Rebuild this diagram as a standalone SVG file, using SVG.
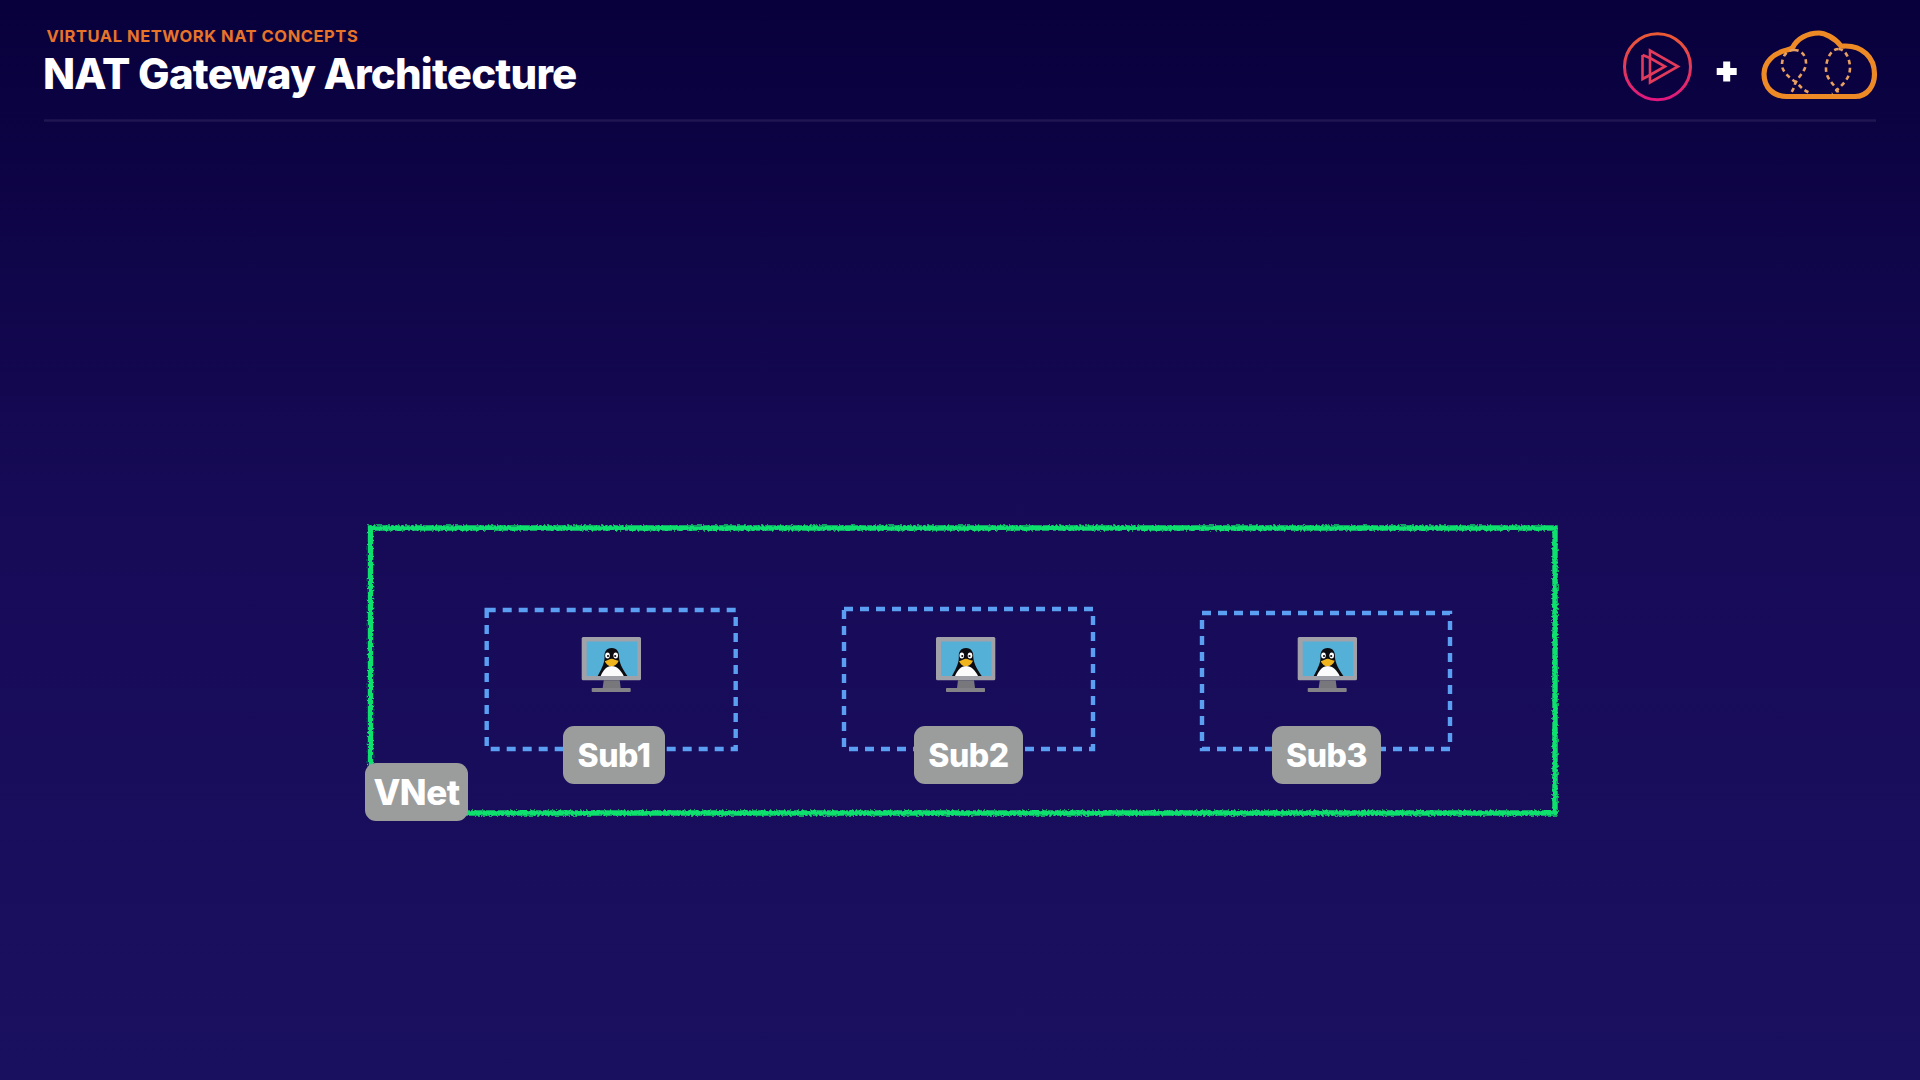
<svg xmlns="http://www.w3.org/2000/svg" width="1920" height="1080" viewBox="0 0 1920 1080">
<style>
text{font-family:Inter,"Liberation Sans",sans-serif}
.sub{fill:none;stroke:#5a9ff2;stroke-width:4.400;stroke-dasharray:9 7}
.lab{fill:#9b9d9d}
.labt{fill:#fff;font-weight:800;font-size:32px;text-anchor:middle;letter-spacing:-.5px}
.bal{fill:none;stroke:#e8a060;stroke-width:2.600;stroke-dasharray:4.500 3.500}
</style>
<defs>
<linearGradient id="bg" x1="0" y1="0" x2="0" y2="1">
<stop offset="0" stop-color="#08003c"/><stop offset=".5" stop-color="#170b58"/><stop offset="1" stop-color="#1a1060"/>
</linearGradient>
<linearGradient id="ps" x1="0" y1="0" x2="0" y2="1">
<stop offset="0" stop-color="#ea5a34"/><stop offset="1" stop-color="#e0177f"/>
</linearGradient>
<filter id="rough" x="-2%" y="-2%" width="104%" height="104%">
<feTurbulence type="fractalNoise" baseFrequency=".5" numOctaves="2" seed="4"/>
<feDisplacementMap in="SourceGraphic" scale="4.500" xChannelSelector="R" yChannelSelector="G"/>
</filter>
<g id="vm">
<rect width="59.300" height="43.300" rx="1.500" fill="#a1a1a9"/>
<rect x="5" y="4.500" width="50.500" height="34.500" fill="#55b0d8"/>
<path d="M22 43.300H38L39 51H21Z" fill="#77777c"/>
<rect x="10" y="51" width="39" height="4" rx=".8" fill="#828287"/>
<path d="M30 11C24.500 11 22.500 15 22.800 20C23 25 21 30 16 39H45.700C40 31 37.500 25 37.300 20C37.500 15 35.500 11 30 11Z" fill="#0c0c10"/>
<path d="M19 39C21.500 33 25 29 30 29C35 29 39 33 42 39Z" fill="#fbfbfb"/>
<ellipse cx="25.800" cy="18.500" rx="2.300" ry="3" fill="#fff"/><ellipse cx="34" cy="18.500" rx="2.300" ry="3" fill="#fff"/>
<circle cx="26.300" cy="19" r="1.100" fill="#111"/><circle cx="33.500" cy="19" r="1.100" fill="#111"/>
<path d="M23 24.300C26 23.500 28 21.800 30 21.800C32 21.800 34 23.500 37 23.700C35.500 27.500 32.500 29.300 29.500 29.300C27 29.300 24.500 27.300 23 24.300Z" fill="#f0b41c"/>
</g>
</defs>
<rect width="1920" height="1080" fill="url(#bg)"/>
<g id="header">
<text x="46.500" y="41.500" font-size="16.500" font-weight="700" letter-spacing=".55" fill="#e8742a">VIRTUAL NETWORK NAT CONCEPTS</text>
<text x="43" y="89" font-size="42" font-weight="800" letter-spacing="-.8" fill="#fff">NAT Gateway Architecture</text>
<path d="M44 120.500H1876" stroke="#1f1652" stroke-width="2.500"/>
</g>
<g id="logos">
<circle cx="1657.500" cy="66.700" r="33" fill="none" stroke="url(#ps)" stroke-width="3"/>
<g fill="none" stroke="#e33a5c" stroke-width="2.600">
<path d="M1650 50.500V82.500L1678 66.500Z"/>
<path d="M1642.500 55V79L1650 75M1650 58L1642.500 55"/>
<path d="M1650 58L1665 66.500L1650 75"/>
</g>
<path d="M1726.700 61.500V81.500M1716.700 71.500H1736.700" stroke="#fff" stroke-width="7"/>
<path d="M1786.500 96.500H1855C1868 96.500 1874.500 85 1874.500 74C1874.500 57 1862 46 1845.500 46C1843 46 1842 46.500 1841 46C1834 37 1824 33 1819 33C1807 33 1797 39 1793 47C1791.500 49 1790 49 1787 50C1773 53 1764 63 1764 74C1764 88 1774 96.500 1786.500 96.500Z" fill="none" stroke="#ee8a26" stroke-width="5.200" stroke-linejoin="round"/>
<path class="bal" d="M1794 50C1786 50 1782 57 1782 65C1782 72 1790 78 1797 83C1801 87 1803 90 1810 93"/>
<path class="bal" d="M1794 50C1803 50 1806 57 1806 63C1806 71 1798 77 1795 84C1794 88 1793 90 1791 93"/>
<path class="bal" d="M1838.500 49C1830 49 1826 61 1826 69C1826 79 1834 84 1837 90C1838 92 1838 93 1838 94"/>
<path class="bal" d="M1838.500 49C1846 49 1850 60 1850 68C1850 78 1843 84 1838 89C1836 91 1834 93 1832 94"/>
</g>
<g id="vnet-box">
<rect x="370.500" y="528" width="1184.500" height="285" fill="none" stroke="#0fe06c" stroke-width="5.400" filter="url(#rough)"/>
</g>
<g id="sub1"><rect class="sub" x="486.700" y="610" width="249" height="139"/><use href="#vm" x="581.700" y="637"/>
<rect class="lab" x="563" y="726" width="102" height="58" rx="11"/><text class="labt" x="614" y="767">Sub1</text></g>
<g id="sub2"><rect class="sub" x="844" y="609" width="249" height="140"/><use href="#vm" x="936" y="637"/>
<rect class="lab" x="914" y="726" width="109" height="58" rx="11"/><text class="labt" x="968.500" y="767">Sub2</text></g>
<g id="sub3"><rect class="sub" x="1202" y="613" width="248" height="136"/><use href="#vm" x="1297.700" y="637"/>
<rect class="lab" x="1272" y="726" width="109" height="58" rx="11"/><text class="labt" x="1326.500" y="767">Sub3</text></g>
<g id="vnet"><rect class="lab" x="365" y="763" width="103" height="58" rx="11"/><text class="labt" x="416.500" y="804.500" style="font-size:35px">VNet</text></g>
</svg>
